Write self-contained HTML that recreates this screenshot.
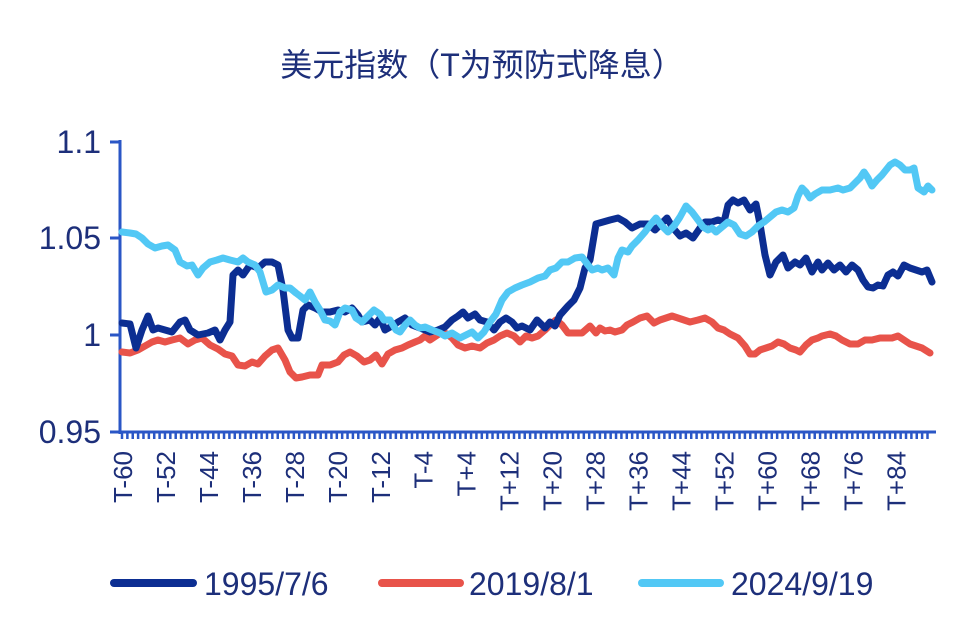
<!DOCTYPE html>
<html><head><meta charset="utf-8"><style>
html,body{margin:0;padding:0;background:#fff;}
svg{display:block;font-family:"Liberation Sans","Noto Sans CJK SC",sans-serif;}
</style></head><body>
<svg width="980" height="642" viewBox="0 0 980 642">
<rect width="980" height="642" fill="#fff"/>
<text x="482" y="76" font-size="32" fill="#1d2f7a" text-anchor="middle" font-family="Liberation Sans, Noto Sans CJK SC, sans-serif">美元指数（T为预防式降息）</text>
<g fill="#1d2f7a" font-size="32" text-anchor="end">
<text x="101" y="153">1.1</text>
<text x="101" y="249">1.05</text>
<text x="101" y="346">1</text>
<text x="101" y="443">0.95</text>
</g>
<g stroke="#2a56c6" stroke-width="3" fill="none">
<line x1="120" y1="140" x2="120" y2="434"/>
<line x1="110" y1="432" x2="936" y2="432"/>
<line x1="110" y1="142" x2="120" y2="142"/>
<line x1="110" y1="238" x2="120" y2="238"/>
<line x1="110" y1="335" x2="120" y2="335"/>
</g>
<g id="ticks" stroke="#2a56c6" stroke-width="2.5"></g>
<g id="xl" fill="#1d2f7a" font-size="26"></g>
<g fill="none" stroke-width="7" stroke-linejoin="round" stroke-linecap="round">
<polyline stroke="#e8534a" points="122,352 130,353 138,350 145,346 152,342 158,340 165,342 172,340 180,338 188,344 195,340 202,338 210,345 218,349 225,354 232,356 238,365 245,366 252,362 258,364 265,356 272,350 278,348 285,360 290,372 296,378 302,377 310,375 318,375 322,365 330,365 338,362 344,355 350,352 357,356 364,362 370,360 376,355 382,364 388,354 395,350 402,348 408,345 415,342 420,340 425,336 430,340 436,336 442,332 447,334 452,338 458,345 465,348 472,346 480,348 487,343 494,340 500,336 507,333 514,336 520,342 526,336 532,338 538,336 545,330 550,325 556,320 562,325 568,333 575,333 582,333 590,326 596,333 600,328 605,331 610,330 615,332 622,330 627,325 633,322 640,318 647,316 654,323 660,320 666,318 672,316 678,318 684,320 690,322 698,320 705,318 712,322 718,328 724,330 730,334 738,338 745,346 750,354 755,354 760,350 766,348 772,346 778,342 784,344 790,348 796,350 800,352 806,345 812,340 818,338 822,336 830,334 836,336 842,340 850,344 858,344 865,340 872,340 880,338 886,338 892,338 898,336 904,340 910,344 916,346 922,348 930,353"/>
<polyline stroke="#0c2e92" points="122,323 130,324 136,348 142,330 148,316 153,330 158,328 165,330 172,332 180,322 185,320 190,330 198,335 208,333 215,330 220,340 225,330 230,322 233,275 238,270 243,275 250,265 258,268 265,262 272,262 278,265 283,290 288,330 292,338 298,338 303,310 308,305 315,308 322,312 330,312 338,310 345,312 352,308 358,315 362,322 370,320 375,325 380,318 385,330 392,326 398,322 405,318 412,325 420,328 430,332 438,330 445,327 452,320 458,316 463,312 468,318 475,314 480,320 487,322 494,330 500,322 506,318 512,322 517,328 522,326 530,330 537,320 545,328 550,322 555,326 560,315 568,306 574,300 580,288 585,268 590,260 596,224 603,222 610,220 618,218 625,222 632,228 640,224 648,224 655,230 660,225 667,218 673,228 680,236 686,233 693,238 700,228 705,222 712,222 718,220 724,222 728,205 733,200 738,203 744,200 750,210 756,204 760,224 765,255 770,275 776,262 783,255 788,268 795,262 800,265 806,258 812,272 818,262 822,270 828,263 834,270 840,265 846,272 852,265 858,270 863,280 868,287 873,288 878,285 883,286 888,275 893,272 898,276 904,265 910,268 916,270 922,272 927,270 932,282"/>
<polyline stroke="#52c8f5" points="122,232 130,233 136,234 142,238 148,244 155,248 162,246 168,245 175,250 180,262 187,266 192,265 198,275 203,268 210,262 217,260 223,258 230,260 238,262 243,258 248,262 255,265 260,272 266,292 272,290 278,285 285,288 290,288 296,293 300,296 305,300 310,292 315,302 320,310 325,320 330,321 335,325 340,312 345,308 352,310 356,318 362,322 368,316 374,310 380,314 384,320 390,320 396,330 400,332 405,325 410,320 415,325 420,328 425,327 432,330 440,333 445,336 452,333 460,338 466,335 472,332 478,338 484,332 490,322 496,314 502,300 508,292 515,288 522,285 530,282 538,278 545,276 550,270 556,268 562,262 568,262 575,258 582,257 588,265 592,270 598,268 602,270 608,268 614,275 618,258 622,250 628,252 632,246 638,240 645,232 650,225 656,218 662,226 668,232 674,226 680,217 686,206 692,212 698,220 703,227 708,230 712,228 716,232 722,227 728,222 734,225 740,234 746,236 752,232 758,226 764,222 770,217 776,212 782,210 788,212 794,208 798,196 802,188 806,192 810,198 815,194 822,190 830,190 838,188 843,190 850,188 856,182 860,178 864,172 868,178 872,186 877,180 882,175 886,170 890,165 895,162 900,165 905,170 910,170 914,168 918,188 924,192 928,186 932,190"/>
</g>
<g stroke-width="8" stroke-linecap="round">
<line x1="114" y1="583" x2="193" y2="583" stroke="#0c2e92"/>
<line x1="382" y1="583" x2="460" y2="583" stroke="#e8534a"/>
<line x1="642" y1="583" x2="720" y2="583" stroke="#52c8f5"/>
</g>
<g fill="#1d2f7a" font-size="32">
<text x="204" y="595">1995/7/6</text>
<text x="469" y="595">2019/8/1</text>
<text x="731" y="595">2024/9/19</text>
</g>
<script>
var t=document.getElementById('ticks'),l=document.getElementById('xl'),ns='http://www.w3.org/2000/svg';
for(var i=-60;i<=90;i++){var x=122+(i+60)*5.37;var e=document.createElementNS(ns,'line');e.setAttribute('x1',x);e.setAttribute('x2',x);e.setAttribute('y1',432);e.setAttribute('y2',439);t.appendChild(e);
if((i+60)%8==0&&i<=84){var s=document.createElementNS(ns,'text');var bx=x+10;s.setAttribute('transform','translate('+bx+',451) rotate(-90)');s.setAttribute('text-anchor','end');s.textContent='T'+(i<0?'-'+(-i):'+'+i);l.appendChild(s);}}
</script>
</svg>
</body></html>
